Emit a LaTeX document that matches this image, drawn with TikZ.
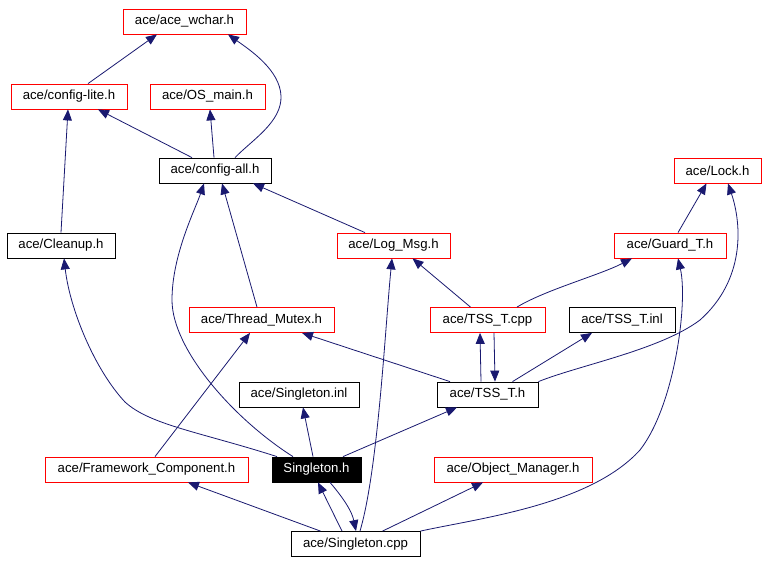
\documentclass[tikz,border=0pt]{standalone}
\usepackage{fontspec}
\setmainfont{Liberation Sans}
\usetikzlibrary{arrows.meta}
\definecolor{edgecol}{HTML}{191970}
\begin{document}
\begin{tikzpicture}[x=1pt,y=-1pt,
  box/.style={draw, line width=0.8pt, minimum height=25pt, inner sep=0pt,
    font=\fontsize{13.2}{15}\selectfont, text=black},
  redbox/.style={box, draw=red},
  blkbox/.style={box, draw=black},
  selbox/.style={box, draw=black, fill=black, text=white},
  edge/.style={draw=edgecol, line width=0.8pt, -{Triangle[length=11pt,width=9pt]}}]
\fill[white] (0,0) rectangle (784,564);
\useasboundingbox (0,0) rectangle (784,564);
% nodes
\node[redbox, minimum width=123pt] (wchar) at (184.5,21.5) {ace/ace\_wchar.h};
\node[redbox, minimum width=116pt] (lite) at (69,96.5) {ace/config-lite.h};
\node[redbox, minimum width=115pt] (osmain) at (207.5,96.5) {ace/OS\_main.h};
\node[blkbox, minimum width=112pt] (all) at (215,170.5) {ace/config-all.h};
\node[redbox, minimum width=87pt] (lock) at (717.5,170.5) {ace/Lock.h};
\node[blkbox, minimum width=108pt] (cleanup) at (61,245.5) {ace/Cleanup.h};
\node[redbox, minimum width=113pt] (logmsg) at (393.5,245.5) {ace/Log\_Msg.h};
\node[redbox, minimum width=112pt] (guard) at (670,245.5) {ace/Guard\_T.h};
\node[redbox, minimum width=145pt] (mutex) at (261.5,320) {ace/Thread\_Mutex.h};
\node[redbox, minimum width=115pt] (tsscpp) at (487.5,320) {ace/TSS\_T.cpp};
\node[blkbox, minimum width=106pt] (tssinl) at (622,320) {ace/TSS\_T.inl};
\node[blkbox, minimum width=120pt] (sinl) at (299,394.5) {ace/Singleton.inl};
\node[blkbox, minimum width=101pt] (tssh) at (487.5,394.5) {ace/TSS\_T.h};
\node[redbox, minimum width=203pt] (fw) at (146.5,469.5) {ace/Framework\_Component.h};
\node[selbox, minimum width=89pt] (sh) at (316.5,469.5) {Singleton.h};
\node[redbox, minimum width=158pt] (om) at (513,469.5) {ace/Object\_Manager.h};
\node[blkbox, minimum width=129pt] (scpp) at (355.5,544) {ace/Singleton.cpp};
% edges
\draw[edge] ([xshift=19pt]lite.north) -- ([xshift=-27.5pt]wchar.south);
\draw[edge] ([xshift=20pt]all.north) .. controls (252,140) and (282,122) .. (281,96)
  .. controls (280,70) and (250,50) .. ([xshift=43.5pt]wchar.south);
\draw[edge] ([xshift=-23pt]all.north) -- ([xshift=29pt]lite.south);
\draw[edge] ([xshift=-1pt]all.north) -- ([xshift=2.5pt]osmain.south);
\draw[edge] (cleanup.north) -- ([xshift=-1pt]lite.south);
\draw[edge] ([xshift=-28.5pt]logmsg.north) -- ([xshift=38pt]all.south);
\draw[edge] ([xshift=-4.5pt]mutex.north) -- ([xshift=7pt]all.south);
\draw[edge] ([xshift=-23.5pt]sh.north) .. controls (235,420) and (172,350) .. (172,300)
  .. controls (172,255) and (195,210) .. ([xshift=-11pt]all.south);
\draw[edge] ([xshift=-39.5pt]sh.north) .. controls (200,432) and (150,425) .. (125,402)
  .. controls (95,370) and (70,310) .. ([xshift=3pt]cleanup.south);
\draw[edge] ([xshift=-3.5pt]sh.north) -- ([xshift=4pt]sinl.south);
\draw[edge] ([xshift=26.5pt]sh.north) -- ([xshift=-30.5pt]tssh.south);
\draw[edge] ([xshift=8.5pt]fw.north) -- ([xshift=-11.5pt]mutex.south);
\draw[edge] ([xshift=-37.5pt]tssh.north) -- ([xshift=40.5pt]mutex.south);
\draw[edge] ([xshift=-6.5pt]tssh.north) -- ([xshift=-7.5pt]tsscpp.south);
\draw[edge] ([xshift=6.5pt]tsscpp.south) -- ([xshift=7.5pt]tssh.north);
\draw[edge] ([xshift=25pt]tssh.north) -- ([xshift=-30pt]tssinl.south);
\draw[edge] (tssh.north east) .. controls (580,365) and (660,350) .. (700,320)
  .. controls (745,280) and (742,225) .. ([xshift=10.5pt]lock.south);
\draw[edge] ([xshift=-17pt]tsscpp.north) -- ([xshift=19pt]logmsg.south);
\draw[edge] ([xshift=29.5pt]tsscpp.north) .. controls (545,290) and (600,275) .. ([xshift=-38pt]guard.south);
\draw[edge] ([xshift=8pt]guard.north) -- ([xshift=-11pt]lock.south);
\draw[edge] ([xshift=-13.5pt]scpp.north) -- ([xshift=1.5pt]sh.south);
\draw[edge] ([xshift=13.5pt]sh.south) .. controls (345,500) and (352,512) .. ([xshift=0.5pt]scpp.north);
\draw[edge] ([xshift=-35pt]scpp.north) -- ([xshift=41.5pt]fw.south);
\draw[edge] ([xshift=4.5pt]scpp.north) .. controls (378,470) and (385,330) .. ([xshift=-1.5pt]logmsg.south);
\draw[edge] ([xshift=27pt]scpp.north) -- ([xshift=-30pt]om.south);
\draw[edge] (scpp.north east) .. controls (480,518) and (590,505) .. (640,450)
  .. controls (675,405) and (688,302) .. ([xshift=8pt]guard.south);
\end{tikzpicture}
\end{document}
